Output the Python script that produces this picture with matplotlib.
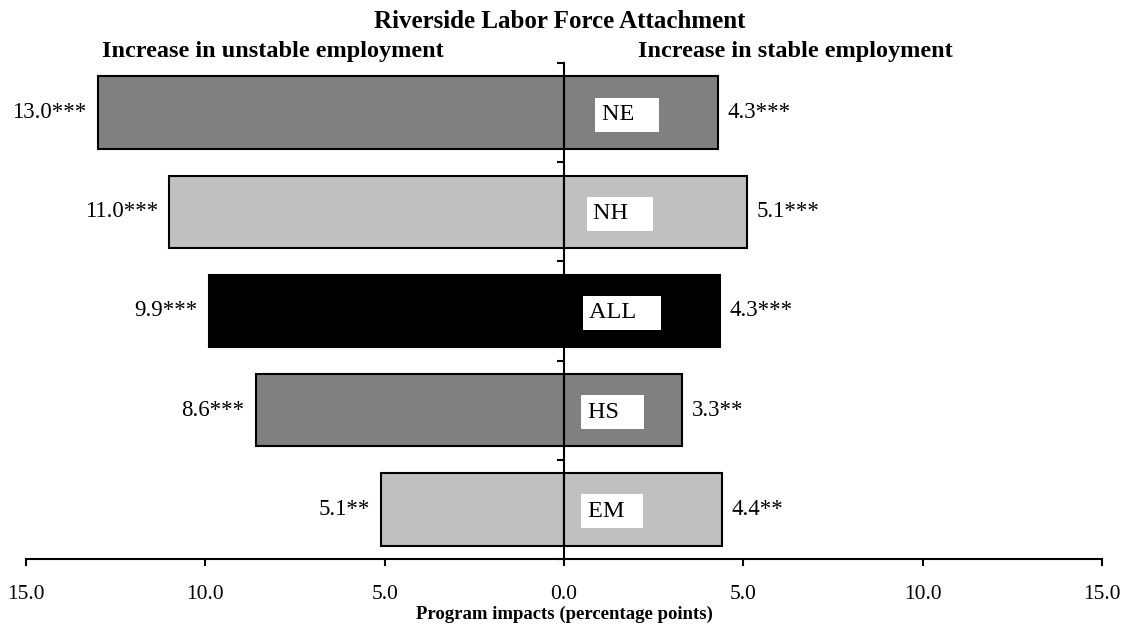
import matplotlib
matplotlib.use("Agg")
import matplotlib.pyplot as plt
import numpy as np

# ---- data ----
groups = ["NE", "NH", "ALL", "HS", "EM"]
unstable = [13.0, 11.0, 9.9, 8.6, 5.1]
stable = [4.3, 5.1, 4.35, 3.3, 4.4]
unstable_labels = ["13.0***", "11.0***", "9.9***", "8.6***", "5.1**"]
stable_labels = ["4.3***", "5.1***", "4.3***", "3.3**", "4.4**"]
tick_values = [-15, -10, -5, 0, 5, 10, 15]

# ---- style ----
colors = ["#808080", "#c0c0c0", "#000000", "#808080", "#c0c0c0"]
group_label_x = [1.05, 0.82, 0.71, 0.66, 0.66]
group_label_pad = ["   ", "   ", "   ", "   ", "  "]
plt.rcParams["font.family"] = ["Liberation Serif", "DejaVu Serif"]

W, H = 1127, 635
fig = plt.figure(figsize=(W / 100, H / 100), dpi=100)
ax = fig.add_axes([26 / W, 1 - 559 / H, (1102 - 26) / W, (559 - 63) / H])

y = np.arange(len(groups))
ax.barh(y, [-v for v in unstable], height=0.73, color=colors,
        edgecolor="black", linewidth=1.5, zorder=2)
ax.barh(y, stable, height=0.73, color=colors,
        edgecolor="black", linewidth=1.5, zorder=2)

for i in range(len(groups)):
    ax.annotate(unstable_labels[i], xy=(-unstable[i], y[i]), xytext=(-8, 0),
                textcoords="offset points", ha="right", va="center",
                fontsize=16.5)
    ax.annotate(stable_labels[i], xy=(stable[i], y[i]), xytext=(7, 0),
                textcoords="offset points", ha="left", va="center",
                fontsize=16.5)
    ax.text(group_label_x[i], y[i] + 0.02, groups[i] + group_label_pad[i],
            ha="left", va="center", fontsize=17.5, zorder=4,
            bbox=dict(boxstyle="square,pad=0.27", facecolor="white",
                      edgecolor="none"))

ax.set_xlim(-15, 15)
ax.set_ylim(len(groups) - 0.5, -0.5)
ax.set_xticks(tick_values)
ax.set_xticklabels([f"{abs(v):.1f}" for v in tick_values], fontsize=15.5)
ax.tick_params(axis="x", direction="out", length=5, width=1.5, pad=14)

ax.spines["top"].set_visible(False)
ax.spines["right"].set_visible(False)
ax.spines["left"].set_position(("data", 0))
ax.spines["left"].set_linewidth(1.5)
ax.spines["left"].set_zorder(3)
ax.spines["bottom"].set_linewidth(1.5)
ax.set_yticks(np.arange(-0.5, len(groups) + 0.5, 1.0))
ax.set_yticklabels([])
ax.tick_params(axis="y", direction="out", length=5, width=1.5)

ax.set_xlabel("Program impacts (percentage points)", fontsize=13.5,
              fontweight="bold", labelpad=1)

fig.text(560 / W, 1 - 22 / H, "Riverside Labor Force Attachment",
         ha="center", va="center", fontsize=18, fontweight="bold")
fig.text(273 / W, 1 - 51 / H, "Increase in unstable employment",
         ha="center", va="center", fontsize=17.5, fontweight="bold")
fig.text(795 / W, 1 - 51 / H, "Increase in stable employment",
         ha="center", va="center", fontsize=17.5, fontweight="bold")

fig.savefig("out.png", dpi=100)
